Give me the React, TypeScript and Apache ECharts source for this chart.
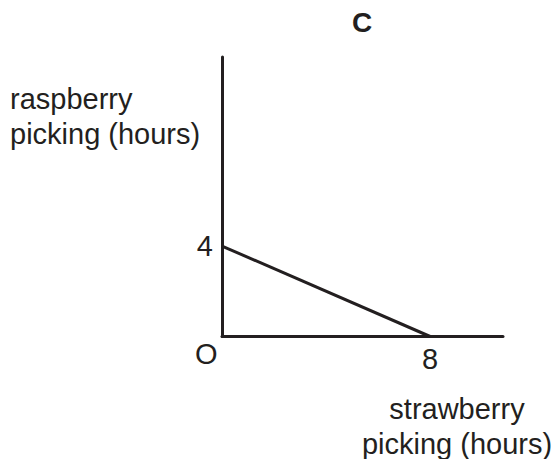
import React, { useEffect, useRef } from "react";
import * as echarts from "echarts";

const xValues = [0, 8];
const yValues = [4, 0];
const xTickLabels = ["8"];
const yTickLabels = ["4"];
const originLabel = "O";
const titleText = "C";
const yAxisTitle = "raspberry\npicking (hours)";
const xAxisTitle = "strawberry\npicking (hours)";

const INK = "#231f20";
const FONT = "'Liberation Sans', Arial, Helvetica, sans-serif";

export default function App() {
  const ref = useRef<HTMLDivElement>(null);
  useEffect(() => {
    document.body.style.margin = "0";
    const chart = echarts.init(ref.current!, null, { renderer: "svg" });
    const lineData = xValues.map((x, i) => [x, yValues[i]]);
    chart.setOption({
      animation: false,
      backgroundColor: "#ffffff",
      title: {
        text: titleText,
        left: 352,
        top: 8,
        padding: 0,
        textStyle: { fontFamily: FONT, fontWeight: "bold", fontSize: 28, color: INK },
      },
      grid: { left: 222, top: 57, right: 52, bottom: 122.5, containLabel: false },
      xAxis: {
        type: "value",
        min: 0,
        max: 10.8,
        interval: 4,
        axisLine: { show: true, onZero: false, lineStyle: { color: INK, width: 3 } },
        axisTick: { show: false },
        splitLine: { show: false },
        axisLabel: {
          show: true,
          margin: 8,
          fontFamily: FONT,
          fontSize: 29,
          color: INK,
          showMinLabel: false,
          showMaxLabel: false,
          formatter: (v: number) => (xTickLabels.includes(String(v)) ? String(v) : ""),
        },
      },
      yAxis: {
        type: "value",
        min: 0,
        max: 12.36,
        interval: 4,
        axisLine: { show: true, onZero: false, lineStyle: { color: INK, width: 3 } },
        axisTick: { show: false },
        splitLine: { show: false },
        axisLabel: {
          show: true,
          margin: 9,
          fontFamily: FONT,
          fontSize: 29,
          color: INK,
          showMinLabel: false,
          showMaxLabel: false,
          formatter: (v: number) => (yTickLabels.includes(String(v)) ? String(v) : ""),
        },
      },
      series: [
        {
          type: "line",
          data: lineData,
          symbol: "none",
          lineStyle: { color: INK, width: 3 },
          z: 1,
        },
      ],
      graphic: [
        {
          type: "text",
          left: 195,
          top: 339,
          style: { text: originLabel, font: `29px ${FONT}`, fill: INK },
        },
        {
          type: "text",
          left: 10,
          top: 81,
          style: { text: yAxisTitle, font: `29px ${FONT}`, fill: INK, lineHeight: 35 },
        },
        {
          type: "text",
          x: 457,
          y: 391,
          style: {
            text: xAxisTitle,
            font: `29px ${FONT}`,
            fill: INK,
            lineHeight: 35,
            align: "center",
            textAlign: "center",
            verticalAlign: "top",
          },
        },
      ],
    });
    return () => chart.dispose();
  }, []);
  return <div ref={ref} style={{ width: 555, height: 459 }} />;
}
